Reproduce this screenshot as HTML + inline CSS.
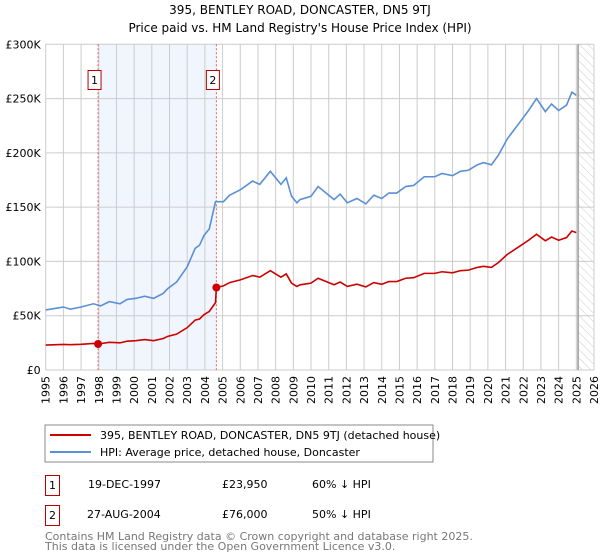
<!DOCTYPE html>
<html><head><meta charset="utf-8"><style>
body{margin:0;background:#fff;font-family:"DejaVu Sans","Liberation Sans",sans-serif;}
svg{display:block}
</style></head><body>
<svg id="chart" width="600" height="560" xmlns="http://www.w3.org/2000/svg">
<defs><pattern id="hatch" width="6" height="6" patternUnits="userSpaceOnUse" patternTransform="rotate(-45)"><line x1="0" y1="0" x2="0" y2="6" stroke="#ccc" stroke-width="1"/></pattern></defs>
<text x="300" y="14" text-anchor="middle" font-size="12">395, BENTLEY ROAD, DONCASTER, DN5 9TJ</text>
<text x="300" y="32" text-anchor="middle" font-size="12">Price paid vs. HM Land Registry's House Price Index (HPI)</text>
<g id="grid"></g><g id="series"></g><g id="axes"></g>
<rect x="45" y="425" width="388" height="37" fill="#fff" stroke="#888"/>
<line x1="50" y1="435" x2="91" y2="435" stroke="#cc0000" stroke-width="2"/>
<text x="100" y="439" font-size="11">395, BENTLEY ROAD, DONCASTER, DN5 9TJ (detached house)</text>
<line x1="50" y1="452" x2="91" y2="452" stroke="#5b8fd6" stroke-width="2"/>
<text x="100" y="456" font-size="11">HPI: Average price, detached house, Doncaster</text>
<g>
<rect x="45.5" y="475.5" width="14" height="20" fill="none" stroke="#b00"/>
<text x="52.5" y="489" font-size="11" text-anchor="middle">1</text>
<text x="88" y="488" font-size="11">19-DEC-1997</text>
<text x="222" y="488" font-size="11">£23,950</text>
<text x="312" y="488" font-size="11">60% ↓ HPI</text></g>
<g>
<rect x="45.5" y="505.5" width="14" height="20" fill="none" stroke="#b00"/>
<text x="52.5" y="519" font-size="11" text-anchor="middle">2</text>
<text x="87" y="518" font-size="11">27-AUG-2004</text>
<text x="222" y="518" font-size="11">£76,000</text>
<text x="312" y="518" font-size="11">50% ↓ HPI</text></g>
<text x="45" y="540" font-size="11" fill="#777">Contains HM Land Registry data © Crown copyright and database right 2025.</text>
<text x="45" y="550" font-size="11" fill="#777">This data is licensed under the Open Government Licence v3.0.</text>
</svg>
<script>
const hpiYears=[1995,1996,1996.4,1997,1997.7,1998.1,1998.6,1999.2,1999.6,2000.1,2000.6,2001.1,2001.65,2001.9,2002.4,2003,2003.45,2003.7,2003.95,2004.25,2004.6,2005.05,2005.4,2006,2006.7,2007.1,2007.7,2008.3,2008.6,2008.9,2009.2,2009.38,2010,2010.4,2010.85,2011.3,2011.65,2012.05,2012.6,2013.1,2013.55,2014,2014.4,2014.85,2015.35,2015.8,2016.4,2017,2017.4,2018,2018.45,2018.9,2019.4,2019.75,2020.2,2020.6,2021.1,2021.75,2022.3,2022.75,2023.25,2023.6,2024,2024.45,2024.75,2025];
const hpiValues=[55.3,58,56,58,61,59,63,61,65,66,68,66,70.6,75,81,95,112,115,124,130,155,155,161,166,174,171,183,171,177,160,154,157,160,169,163,157,162,154,158,153,161,158,163,163,169,170,178,178,181,179,183,184,189,191,189,198,213,227,239,250,238,245,239,244,256,253];
const priceYears=[1995,1996,1996.4,1997,1997.7,1997.96,1998.6,1999.2,1999.6,2000.1,2000.6,2001.1,2001.65,2001.9,2002.4,2003,2003.45,2003.7,2003.95,2004.25,2004.6,2004.65,2005.05,2005.4,2006,2006.7,2007.1,2007.7,2008.3,2008.6,2008.9,2009.2,2009.38,2010,2010.4,2010.85,2011.3,2011.65,2012.05,2012.6,2013.1,2013.55,2014,2014.4,2014.85,2015.35,2015.8,2016.4,2017,2017.4,2018,2018.45,2018.9,2019.4,2019.75,2020.2,2020.6,2021.1,2021.75,2022.3,2022.75,2023.25,2023.6,2024,2024.45,2024.75,2025];
const priceValues=[23,23.5,23.3,23.7,24.5,23.95,25.5,25,26.5,27,28,27,29,31,33,39,46,47,51,54,62,76,77.5,80.5,83,87,85.5,91.5,85.5,88.5,80,77,78.5,80,84.5,81.5,78.5,81,77,79,76.5,80.5,79,81.5,81.5,84.5,85,89,89,90.5,89.5,91.5,92,94.5,95.5,94.5,99,106.5,113.5,119.5,125,119,122.5,119.5,122,128,126.5];
const saleYears=[1997.96,2004.65];
const saleValues=[23.95,76];
const saleLabels=["1","2"];
const yTicks=[0,50,100,150,200,250,300];
const yTickLabels=["£0","£50K","£100K","£150K","£200K","£250K","£300K"];
const xTicks=[1995,1996,1997,1998,1999,2000,2001,2002,2003,2004,2005,2006,2007,2008,2009,2010,2011,2012,2013,2014,2015,2016,2017,2018,2019,2020,2021,2022,2023,2024,2025,2026];
const dataEnd=2025.1;
const X0=45.7,X1=594,Y0=370,Y1=44.3;
const xs=y=>X0+(y-1995)/31*(X1-X0);
const ys=v=>Y0-v/300*(Y0-Y1);
const NS="http://www.w3.org/2000/svg";
function mk(p,t,a){const e=document.createElementNS(NS,t);for(const k in a)e.setAttribute(k,a[k]);p.appendChild(e);return e;}
const grid=document.getElementById('grid'),ser=document.getElementById('series'),ax=document.getElementById('axes');
const shade=mk(grid,'rect',{x:xs(saleYears[0]),y:Y1,width:xs(saleYears[1])-xs(saleYears[0]),height:Y0-Y1,fill:'#eef3fc',opacity:0.8});


xTicks.forEach(t=>{const l=mk(grid,'line',{x1:xs(t),x2:xs(t),y1:Y1,y2:Y0,stroke:'#ccc'});


const tx=mk(ax,'text',{transform:`translate(${xs(t)+4},${Y0+6}) rotate(-90)`,'text-anchor':'end','font-size':'11'});tx.textContent=t;

});
yTicks.forEach((t,i)=>{const l=mk(grid,'line',{x1:X0,x2:X1,y1:ys(t),y2:ys(t),stroke:'#ccc'});


const tx=mk(ax,'text',{x:X0-5,y:ys(t)+4,'text-anchor':'end','font-size':'11'});tx.textContent=yTickLabels[i];

});
const hatch=mk(grid,'rect',{x:xs(dataEnd),y:Y1,width:X1-xs(dataEnd),height:Y0-Y1,fill:'url(#hatch)'});


const el=mk(grid,'line',{x1:xs(dataEnd),x2:xs(dataEnd),y1:Y1,y2:Y0,stroke:'#999','stroke-width':1.5});


saleYears.forEach((y,i)=>{const l=mk(grid,'line',{x1:xs(y),x2:xs(y),y1:Y1,y2:Y0,stroke:'#e06060','stroke-dasharray':'2,2'});


const r=mk(ax,'rect',{x:xs(y)-21.5+(i?0:0),y:70.5,width:13,height:19,fill:'#fff',stroke:'#b00'});
r.setAttribute('x',xs(y)-10);


const t=mk(ax,'text',{x:xs(y)-3.5,y:84,'text-anchor':'middle','font-size':'11'});t.textContent=saleLabels[i];

});
const hp=mk(ser,'polyline',{points:hpiYears.map((y,i)=>xs(y)+','+ys(hpiValues[i])).join(' '),fill:'none',stroke:'#5b8fd6','stroke-width':1.6});


const pp=mk(ser,'polyline',{points:priceYears.map((y,i)=>xs(y)+','+ys(priceValues[i])).join(' '),fill:'none',stroke:'#cc0000','stroke-width':1.6});


saleYears.forEach((y,i)=>{const c=mk(ser,'circle',{cx:xs(y),cy:ys(saleValues[i]),r:4,fill:'#cc0000'});

});
</script>
</body></html>
